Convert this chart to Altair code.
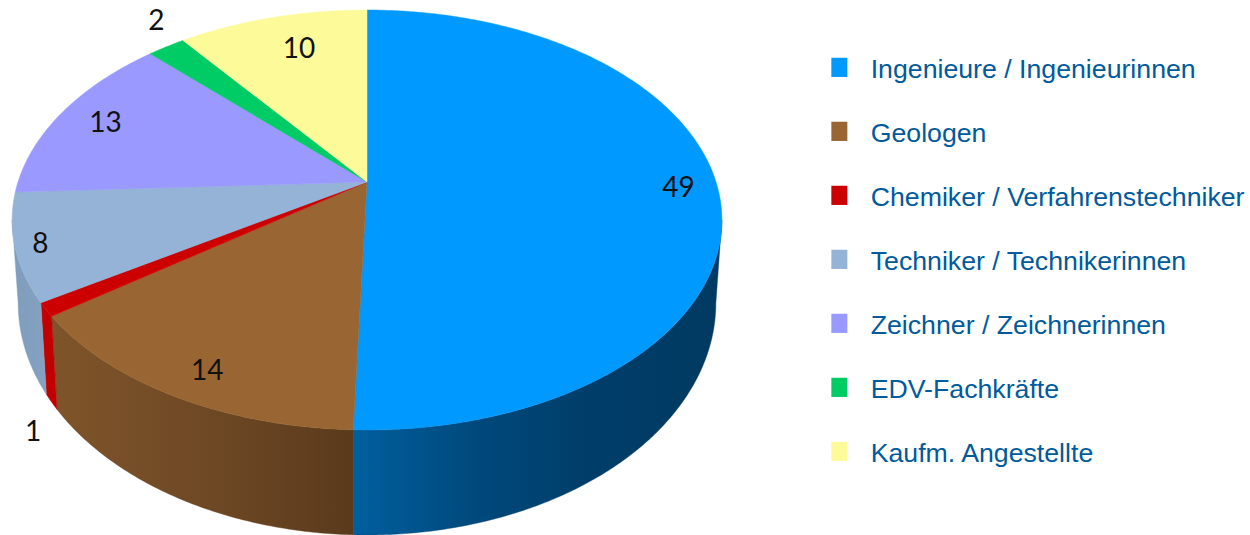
import math
import altair as alt

# Staff counts per occupational group, clockwise from twelve o'clock
names = [
    "Ingenieure / Ingenieurinnen",
    "Geologen",
    "Chemiker / Verfahrenstechniker",
    "Techniker / Technikerinnen",
    "Zeichner / Zeichnerinnen",
    "EDV-Fachkräfte",
    "Kaufm. Angestellte",
]
counts = [49, 14, 1, 8, 13, 2, 10]
colors = ["#0099ff", "#996633", "#cc0000", "#95b3d7", "#9999ff", "#00cc66", "#fcfa99"]

# Label placement: radial reach, then a nudge in canvas pixels
label_reach = [0.89, 0.87, 1.05, 0.94, 0.86, 1.08, 0.8]
label_dx = [0, 5, 5, 3, 3, 4, 10]
label_dy = [4, 8, 116, 2, 2, -15, 3]

# Wall shading, left to right; slices absent here have no visible wall
wall_stops = {
    0: ["#005f9e", "#00497c", "#003d68", "#003a62"],
    1: ["#7f542a", "#6f4925", "#5a3a1c"],
    2: ["#c40000", "#c00000"],
    3: ["#7f9dbd", "#84a1c2"],
}

# Tilted disc: a perspective map of the unit circle onto the canvas
HUB_X, HUB_Y = 367.0, 182.0
A_X, A_Y, PERSP = 349.0, 203.1, 0.181
RIM_CY, FOOT_CY = 220.0, 303.0
FOOT_SX, FOOT_SY = 349.0 / 355.0, 232.0 / 210.0
WALL_FROM, WALL_TO = 100.4, 259.6


def rim(theta, reach=1.0):
    u = reach * math.sin(math.radians(theta))
    v = reach * math.cos(math.radians(theta))
    d = 1 + PERSP * v
    return [HUB_X + A_X * u / d, HUB_Y - A_Y * v / d]


def foot(theta):
    x, y = rim(theta)
    return [HUB_X + (x - HUB_X) * FOOT_SX, FOOT_CY + (y - RIM_CY) * FOOT_SY]


def arc_angles(a, b):
    n = max(2, int(abs(b - a) * 2))
    return [a + (b - a) * i / n for i in range(n + 1)]


def feature(name, ring):
    return {
        "type": "Feature",
        "properties": {"name": name},
        "geometry": {"type": "Polygon", "coordinates": [ring + [ring[0]]]},
    }


total = sum(counts)
edges = [0.0]
for c in counts:
    edges.append(edges[-1] + 360.0 * c / total)

projection = dict(type="identity", scale=1, translate=[0, 0])

layers = []

# Side walls go underneath the top faces
for i, stops in wall_stops.items():
    a = max(edges[i], WALL_FROM)
    b = min(edges[i + 1], WALL_TO)
    angles = arc_angles(a, b)
    ring = [rim(t) for t in angles] + [foot(t) for t in reversed(angles)]
    gradient = alt.Gradient(
        gradient="linear",
        x1=0, x2=1, y1=0, y2=0,
        stops=[
            alt.GradientStop(offset=k / (len(stops) - 1), color=c)
            for k, c in enumerate(stops)
        ],
    )
    layers.append(
        alt.Chart(alt.Data(values=[feature(names[i], ring)]))
        .mark_geoshape(fill=gradient, stroke=stops[-1], strokeWidth=0.4)
        .project(**projection)
    )

# Top faces, which also carry the legend
faces = [
    feature(n, [[HUB_X, HUB_Y]] + [rim(t) for t in arc_angles(edges[i], edges[i + 1])])
    for i, n in enumerate(names)
]
scale = alt.Scale(domain=names, range=colors)
layers.append(
    alt.Chart(alt.Data(values=faces))
    .mark_geoshape(strokeWidth=0.5)
    .encode(
        color=alt.Color(
            "properties.name:N",
            scale=scale,
            sort=None,
            legend=alt.Legend(
                title=None,
                orient="none",
                legendX=826,
                legendY=57,
                symbolType="M-1,-1.575H1V0.825H-1Z",
                symbolSize=256,
                symbolStrokeWidth=0,
                labelFont="Liberation Sans",
                labelFontSize=26.7,
                labelColor="#005a9c",
                labelOffset=18,
                labelLimit=420,
                rowPadding=36,
                symbolOffset=0,
                padding=0,
            ),
        ),
        stroke=alt.Stroke("properties.name:N", scale=scale, sort=None, legend=None),
    )
    .project(**projection)
)

# Count labels
label_rows = []
for i, c in enumerate(counts):
    x, y = rim((edges[i] + edges[i + 1]) / 2, label_reach[i])
    label_rows.append({"lon": x + label_dx[i], "lat": y + label_dy[i], "count": str(c)})

layers.append(
    alt.Chart(alt.Data(values=label_rows))
    .mark_text(
        font="Lato",
        fontSize=28,
        color="#111111",
        align="center",
        baseline="middle",
    )
    .encode(longitude="lon:Q", latitude="lat:Q", text="count:N")
    .project(**projection)
)

chart = (
    alt.layer(*layers)
    .properties(
        width=1250,
        height=535,
        padding=0,
        autosize=alt.AutoSizeParams(type="none"),
        background="#ffffff",
    )
    .configure_view(stroke=None)
)

chart.save("out.html", embed_options={"renderer": "svg", "actions": False})
